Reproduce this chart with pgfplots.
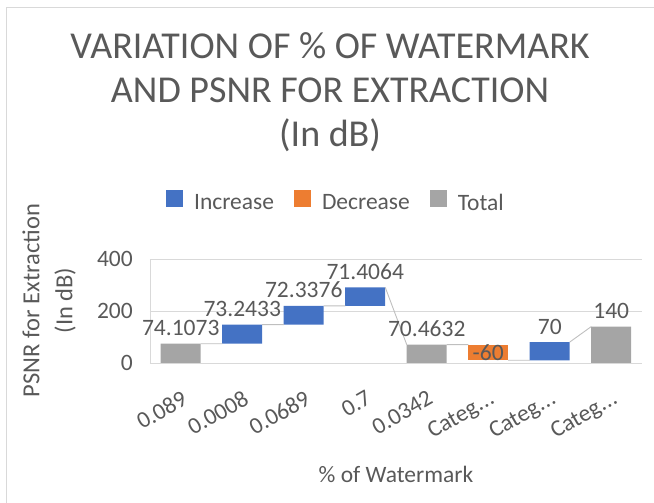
\documentclass[border=0pt]{standalone}
\usepackage{pgfplots}
\pgfplotsset{compat=1.18}
\usepackage{fontspec}
\setmainfont{Carlito}
\definecolor{txt}{HTML}{595959}
\definecolor{gridc}{HTML}{D9D9D9}
\definecolor{inc}{HTML}{4472C4}
\definecolor{dec}{HTML}{ED7D31}
\definecolor{tot}{HTML}{A5A5A5}
\definecolor{conn}{HTML}{BFBFBF}
\newcommand{\cdts}{Categ.\kern0.5pt.\kern0.5pt.}
\begin{document}
\begin{tikzpicture}[x=1pt,y=1pt]
\useasboundingbox (0,0) rectangle (654,503);
\draw[gridc, line width=1pt] (6,0) -- (6,495) -- (654,495);
\pgfplotsset{common/.style={
  at={(150pt,140pt)}, anchor=south west,
  scale only axis, width=492pt, height=104pt,
  xmin=-0.5, xmax=7.5, ymin=0, ymax=400,
}}
\begin{axis}[common,
  ybar stacked, bar width=40pt,
  ytick={0,200,400},
  xtick={0,1,2,3,4,5,6,7},
  xticklabels={0.089,0.0008,0.0689,0.7,0.0342,\cdts,\cdts,\cdts},
  ymajorgrids, grid style={gridc, line width=0.9pt},
  axis x line*=bottom, axis y line*=left,
  axis line style={-, gridc, line width=0.9pt},
  major tick length=0pt, tick style={draw=none},
  tick label style={font=\fontsize{23.5}{28}\selectfont, text=txt, /pgf/number format/assume math mode=true},
  yticklabel style={anchor=east, inner sep=0pt, xshift=-17pt},
  xticklabel style={inner sep=0pt, yshift=-26pt, rotate=30, anchor=north east},
  xlabel={\% of Watermark},
  xlabel style={at={(axis description cs:0.5,-1.075)}, anchor=center, font=\fontsize{23.5}{28}\selectfont, text=txt},
  ylabel={PSNR for Extraction\\(In dB)},
  ylabel style={at={(axis description cs:-0.205,0.60)}, anchor=center, align=center, font=\fontsize{24.5}{33}\selectfont, text=txt},
  title={VARIATION OF \% OF WATERMARK\\AND PSNR FOR EXTRACTION\\(In dB)},
  title style={at={(axis description cs:0.366,2.545)}, anchor=center, align=center, font=\fontsize{38}{44}\selectfont, text=txt},
  legend style={at={(axis description cs:0.378,1.548)}, anchor=center, draw=none, fill=none,
    font=\fontsize{23.5}{28}\selectfont, text=txt,
    /tikz/every odd column/.append style={column sep=9pt},
    /tikz/every even column/.append style={column sep=18pt}},
  legend columns=-1,
  legend image code/.code={\fill[#1] (0pt,-4pt) rectangle (17pt,13pt);},
]
\addplot[fill=none, draw=none, forget plot] coordinates {(0,0) (1,74.1073) (2,147.3506) (3,219.6882) (4,0) (5,10.4632) (6,10.4632) (7,0)};
\addplot[fill=inc, draw=none] coordinates {(0,0) (1,73.2433) (2,72.3376) (3,71.4064) (4,0) (5,0) (6,70) (7,0)};
\addplot[fill=dec, draw=none] coordinates {(0,0) (1,0) (2,0) (3,0) (4,0) (5,60) (6,0) (7,0)};
\addplot[fill=tot, draw=none] coordinates {(0,74.1073) (1,0) (2,0) (3,0) (4,70.4632) (5,0) (6,0) (7,140)};
\legend{Increase,Decrease,Total}
\end{axis}
\begin{axis}[common, hide axis, clip=false]
\addplot[conn, line width=0.9pt, unbounded coords=jump] table[row sep=\\] {
x y\\
0.325 74.1073\\ 0.675 74.1073\\ nan nan\\
1.325 147.3506\\ 1.675 147.3506\\ nan nan\\
2.325 219.6882\\ 2.675 219.6882\\ nan nan\\
3.325 291.0946\\ 3.675 70.4632\\ nan nan\\
4.325 70.4632\\ 4.675 70.4632\\ nan nan\\
5.325 10.4632\\ 5.675 10.4632\\ nan nan\\
6.325 80.4632\\ 6.675 140\\
};
\addplot[draw=none, mark=none, nodes near coords, point meta=explicit symbolic,
  nodes near coords style={anchor=base, inner sep=0pt, yshift=8pt, font=\fontsize{23.5}{28}\selectfont, text=txt}]
  table[meta=lab, row sep=\\] {
x y lab\\
0 74.1073 74.1073\\
1 147.3506 73.2433\\
2 219.6882 72.3376\\
3 291.0946 71.4064\\
4 70.4632 70.4632\\
6 80.4632 70\\
7 140 140\\
};
\addplot[draw=none, mark=none, nodes near coords, point meta=explicit symbolic,
  nodes near coords style={anchor=center, inner sep=0pt, font=\fontsize{23.5}{28}\selectfont, text=txt}]
  table[meta=lab, row sep=\\] {
x y lab\\
5 40.4632 -60\\
};
\end{axis}
\end{tikzpicture}
\end{document}
